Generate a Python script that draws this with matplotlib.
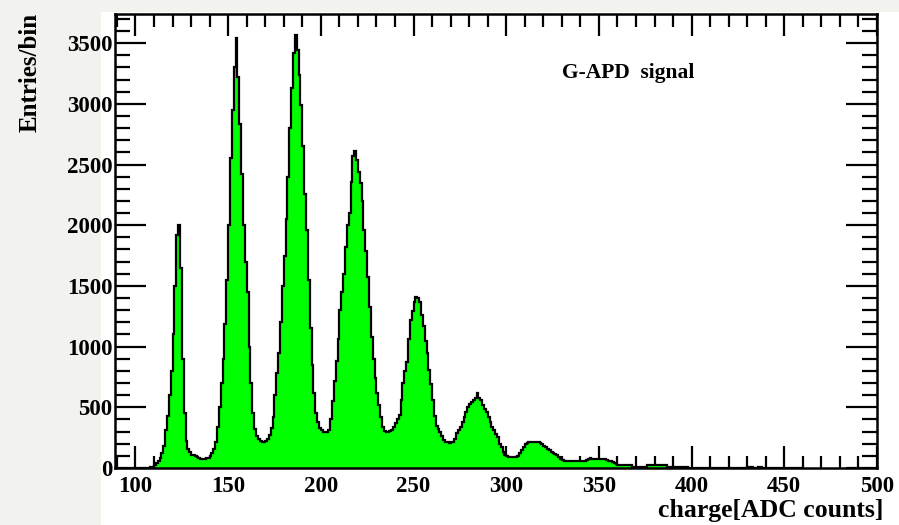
import numpy as np
import matplotlib.pyplot as plt
from matplotlib.patches import Rectangle


# =====================================================
# Data (1 ADC count per bin)
# =====================================================

first_bin = 105
bin_width = 1

counts = [
    # 105 - 139
    0, 0, 0, 5, 10, 25, 40, 60, 80, 120,
    180, 310, 430, 600, 800, 1100, 1500, 1920, 2000, 1650,
    900, 450, 220, 160, 130, 110, 105, 95, 90, 80,
    72, 72, 78, 80, 85,
    # 140 - 179
    95, 120, 160, 210, 340, 500, 700, 900, 1190, 1550,
    2000, 2550, 2950, 3300, 3540, 3220, 2830, 2420, 2000, 1700,
    1450, 1000, 700, 450, 320, 260, 236, 225, 218, 215,
    220, 235, 270, 330, 420, 600, 780, 950, 1200, 1500,
    # 180 - 219
    1750, 2050, 2400, 2800, 3130, 3420, 3570, 3440, 3240, 2990,
    2650, 2260, 1960, 1550, 1150, 850, 620, 450, 380, 330,
    310, 300, 295, 298, 310, 400, 550, 720, 880, 1060,
    1300, 1450, 1600, 1820, 2000, 2100, 2360, 2570, 2610, 2540,
    # 220 - 259
    2440, 2350, 2200, 1960, 1790, 1570, 1330, 1080, 900, 740,
    620, 520, 420, 340, 305, 300, 300, 305, 315, 340,
    370, 400, 440, 560, 700, 800, 870, 1060, 1220, 1290,
    1370, 1410, 1400, 1370, 1260, 1170, 1050, 945, 810, 690,
    # 260 - 299
    560, 430, 345, 320, 300, 265, 230, 212, 210, 208,
    210, 212, 240, 285, 315, 340, 380, 420, 465, 505,
    525, 546, 560, 575, 615, 580, 560, 520, 490, 465,
    420, 382, 340, 313, 280, 258, 200, 170, 134, 110,
    # 300 - 339
    95, 93, 93, 93, 93, 93, 95, 120, 148, 175,
    195, 203, 215, 217, 217, 215, 215, 210, 205, 200,
    185, 170, 160, 145, 134, 125, 112, 105, 90, 75,
    65, 60, 58, 58, 58, 55, 55, 58, 55, 58,
    # 340 - 379
    58, 55, 58, 62, 72, 80, 75, 72, 72, 72,
    70, 72, 70, 70, 68, 60, 55, 50, 45, 30,
    25, 25, 25, 25, 25, 25, 25, 25, 8, 8,
    8, 8, 8, 8, 8, 8, 25, 25, 25, 25,
    # 380 - 419
    25, 25, 25, 25, 25, 25, 25, 8, 8, 8,
    8, 8, 8, 8, 8, 5, 5, 5, 3, 3,
    3, 3, 3, 3, 3, 3, 3, 2, 2, 2,
    2, 2, 2, 2, 2, 2, 2, 2, 2, 2,
    # 420 - 459
    2, 2, 2, 2, 2, 2, 2, 2, 2, 2,
    5, 5, 5, 2, 2, 2, 8, 8, 2, 2,
    2, 2, 2, 2, 2, 2, 2, 2, 2, 2,
    0, 0, 0, 0, 0, 0, 0, 0, 0, 0,
]

x_ticks = [100, 150, 200, 250, 300, 350, 400, 450, 500]
y_ticks = [0, 500, 1000, 1500, 2000, 2500, 3000, 3500]

edges = first_bin + bin_width * np.arange(len(counts) + 1)


# =====================================================
# Figure
# =====================================================

plt.rcParams["font.family"] = ["Liberation Serif", "DejaVu Serif"]
plt.rcParams["font.weight"] = "bold"

fig = plt.figure(figsize=(8.99, 5.25), dpi=100, facecolor="white")

# light grey slide background on the left and top edge
fig.patches.append(Rectangle((0, 0), 0.112, 1, transform=fig.transFigure,
                             facecolor="#f2f2ef", edgecolor="none", zorder=-5))
fig.patches.append(Rectangle((0, 0.978), 1, 0.022, transform=fig.transFigure,
                             facecolor="#f2f2ef", edgecolor="none", zorder=-5))

ax = fig.add_axes([0.128, 0.1086, 0.8475, 0.8647])
ax.set_facecolor("white")

ax.stairs(counts, edges, fill=True, color="#00ff00", zorder=2)
ax.stairs(counts, edges, color="black", linewidth=1.6, zorder=3)

ax.set_xlim(89, 500)
ax.set_ylim(0, 3740)

ax.set_xticks(x_ticks)
ax.set_xticks(np.arange(90, 501, 10), minor=True)
ax.set_yticks(y_ticks)
ax.set_yticks(np.arange(0, 3701, 100), minor=True)

ax.tick_params(axis="both", which="both", direction="in",
               top=True, right=True, width=1.6, labelsize=16.5)
ax.tick_params(axis="x", which="major", length=16, pad=6)
ax.tick_params(axis="x", which="minor", length=9)
ax.tick_params(axis="y", which="major", length=22, pad=2)
ax.tick_params(axis="y", which="minor", length=11)

for spine in ax.spines.values():
    spine.set_linewidth(1.8)

for label in ax.get_xticklabels() + ax.get_yticklabels():
    label.set_fontweight("bold")

fig.text(0.983, 0.006, "charge[ADC counts]", ha="right", va="bottom",
         fontsize=18.5, fontweight="bold")
fig.text(0.034, 0.975, "Entries/bin", ha="center", va="top",
         rotation=90, fontsize=18, fontweight="bold")
ax.text(0.587, 0.87, "G-APD  signal", transform=ax.transAxes,
        va="center", fontsize=15.5, fontweight="bold")

fig.savefig("out.png", dpi=100, facecolor=fig.get_facecolor())
plt.close(fig)
